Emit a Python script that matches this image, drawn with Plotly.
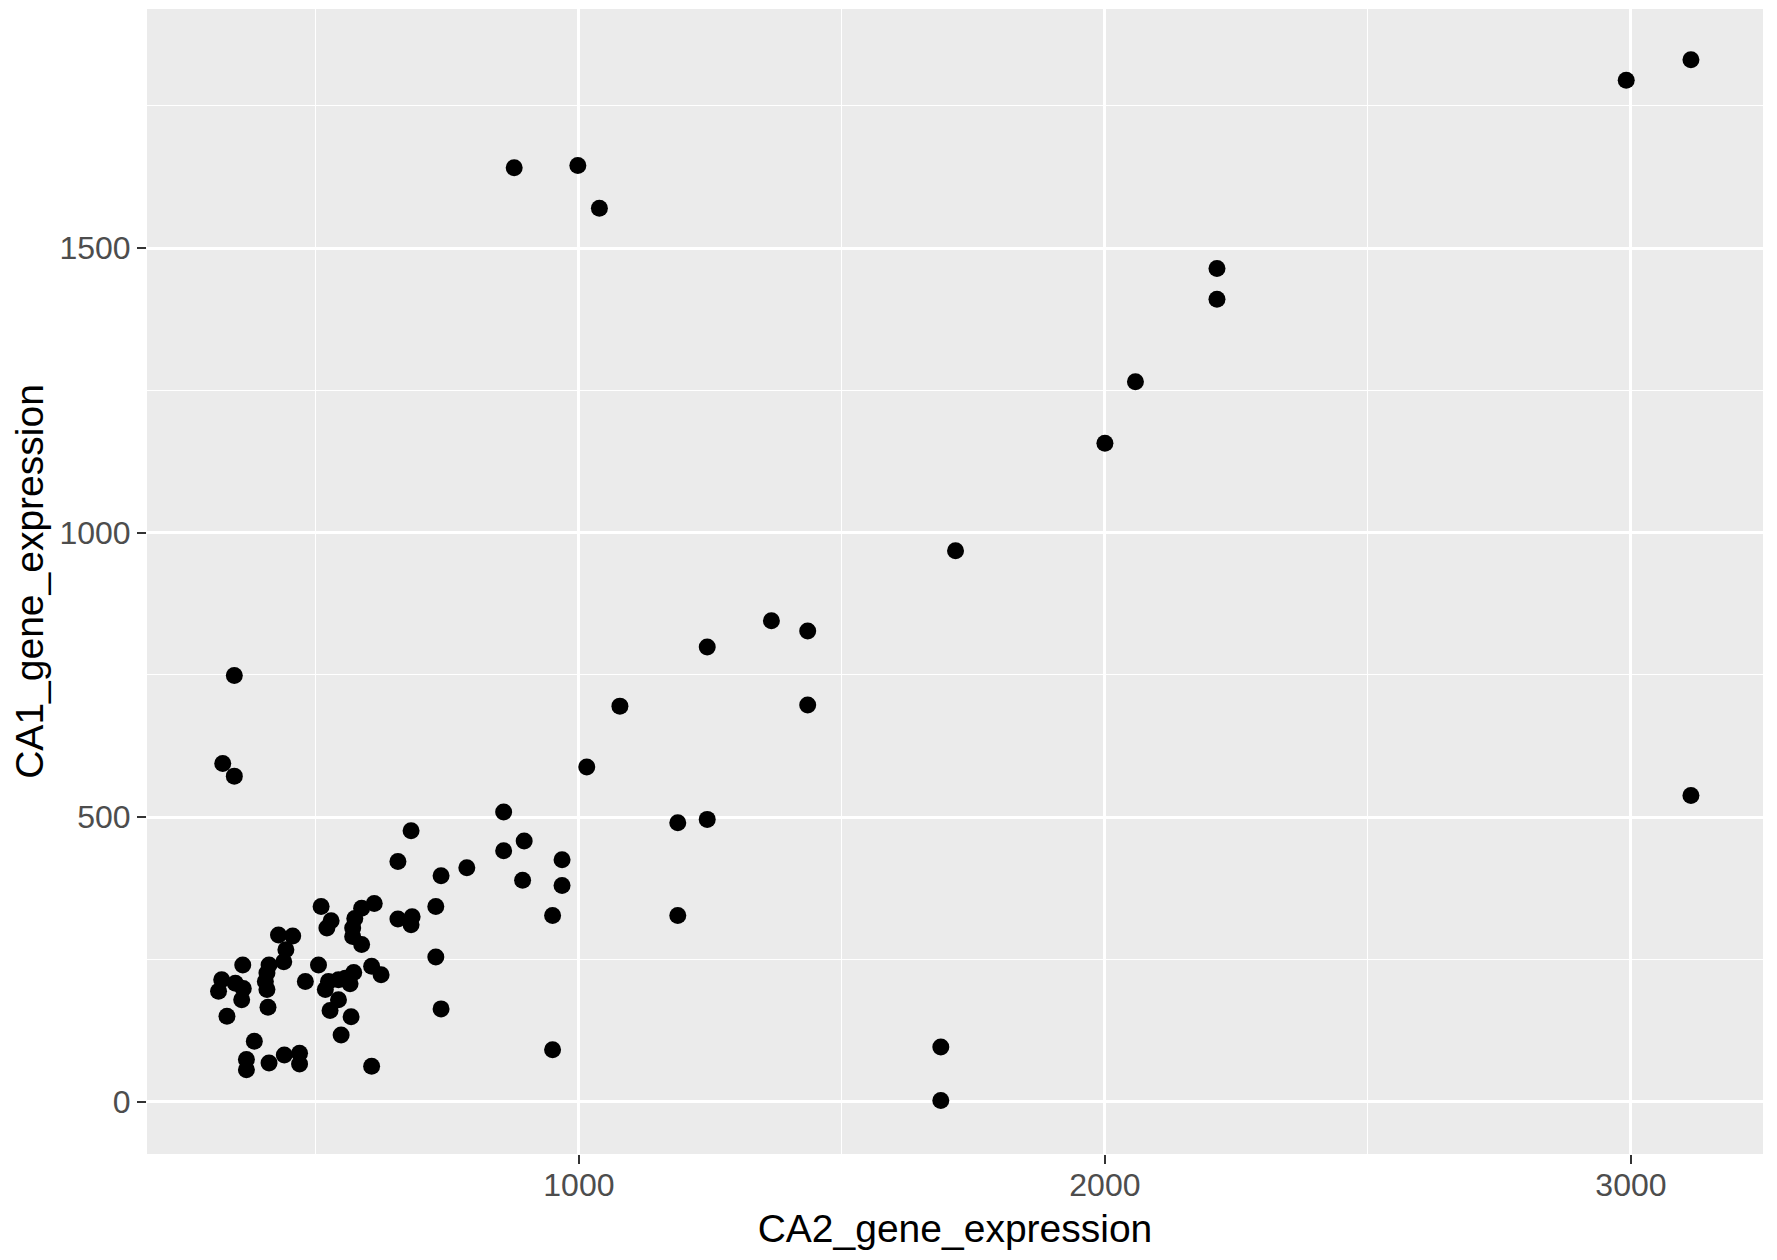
import plotly.graph_objects as go

# CA2 (x) and CA1 (y) gene expression values
ca2_gene_expression = [
    3114, 2991, 877, 998, 1039, 2213, 2213, 2058, 2000, 1716,
    1366, 1435, 1244, 1435, 1078, 345, 323, 345, 1015, 3114,
    1188, 1244, 1188, 1688, 1688,
    857, 681, 896, 857, 656, 968, 738, 787, 893, 968,
    950, 510, 529, 521, 429, 456, 443, 439, 728, 656,
    683, 681, 611, 587, 574, 570, 570, 587, 728, 738,
    950, 606, 361, 411, 407, 404, 407, 409, 321, 315,
    347, 362, 359, 331, 383, 368, 368, 411, 440, 469,
    469, 480, 505, 524, 518, 543, 556, 572, 565, 543,
    527, 567, 548, 606, 624,
]
ca1_gene_expression = [
    1831, 1795, 1641, 1645, 1570, 1464, 1410, 1265, 1157, 968,
    845, 827, 799, 697, 695, 749, 594, 572, 588, 538,
    490, 496, 327, 96, 2,
    509, 476, 458, 441, 422, 425, 397, 411, 389, 380,
    327, 343, 318, 305, 293, 291, 267, 246, 343, 321,
    325, 311, 348, 340, 322, 305, 290, 276, 254, 163,
    91, 62, 240, 240, 226, 211, 197, 166, 214, 194,
    208, 199, 179, 150, 106, 74, 56, 68, 82, 85,
    66, 211, 240, 211, 197, 214, 217, 227, 207, 179,
    160, 149, 117, 238, 223,
]

x_ticks = [1000, 2000, 3000]
y_ticks = [0, 500, 1000, 1500]

FONT = "Liberation Sans, Arial, Helvetica, sans-serif"

fig = go.Figure(
    go.Scatter(
        x=ca2_gene_expression,
        y=ca1_gene_expression,
        mode="markers",
        marker=dict(color="black", size=17, line=dict(width=0)),
        hoverinfo="x+y",
    )
)

# page body has an 8px default margin, so the figure is sized/placed to compensate
fig.update_layout(
    width=1769,
    height=1252,
    margin=dict(l=139, r=14, t=1, b=106, autoexpand=False),
    paper_bgcolor="white",
    plot_bgcolor="#EBEBEB",
    showlegend=False,
    font=dict(family=FONT),
)

fig.update_xaxes(
    automargin=False,
    range=[179, 3251],
    tickmode="array",
    tickvals=x_ticks,
    ticktext=[str(v) for v in x_ticks],
    showgrid=True,
    gridcolor="white",
    gridwidth=2.6,
    minor=dict(tickmode="array", tickvals=[500, 1500, 2500], showgrid=True,
               gridcolor="white", gridwidth=1.3, ticks=""),
    zeroline=False,
    showline=False,
    ticks="outside",
    ticklen=9,
    tickwidth=2,
    tickcolor="#333333",
    ticklabelstandoff=-6,
    tickfont=dict(size=32, color="#4D4D4D", family=FONT),
    title=dict(text="CA2_gene_expression", font=dict(size=39, color="black", family=FONT), standoff=12),
)

fig.update_yaxes(
    automargin=False,
    range=[-92, 1920],
    tickmode="array",
    tickvals=y_ticks,
    ticktext=[str(v) for v in y_ticks],
    showgrid=True,
    gridcolor="white",
    gridwidth=2.6,
    minor=dict(tickmode="array", tickvals=[250, 750, 1250, 1750], showgrid=True,
               gridcolor="white", gridwidth=1.3, ticks=""),
    zeroline=False,
    showline=False,
    ticks="outside",
    ticklen=9,
    tickwidth=2,
    tickcolor="#333333",
    tickfont=dict(size=32, color="#4D4D4D", family=FONT),
    title=dict(text="CA1_gene_expression", font=dict(size=39, color="black", family=FONT), standoff=6),
)

fig.write_html("out.html")
